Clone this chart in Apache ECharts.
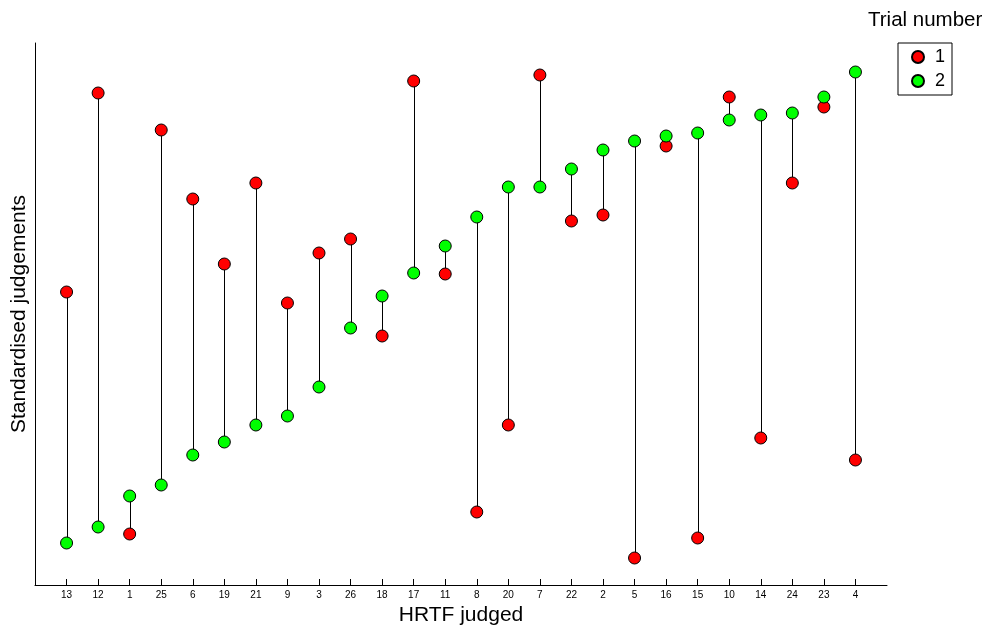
<!DOCTYPE html>
<html>
<head>
<meta charset="utf-8">
<script src="https://cdn.jsdelivr.net/npm/echarts@6/dist/echarts.min.js"></script>
<style>html,body{margin:0;padding:0;background:#fff;}#c{width:993px;height:628px;}</style>
</head>
<body>
<div id="c"></div>
<script>
// HRTF categories in displayed order
const categories = ['13','12','1','25','6','19','21','9','3','26','18','17','11','8','20','7','22','2','5','16','15','10','14','24','23','4'];
// Standardised judgements (arbitrary units)
const trial1 = [293,492,51,455,386,321,402,282,332,346,249,504,311,73,160,510,364,370,27,439,47,488,147,402,478,125];
const trial2 = [42,58,89,100,130,143,160,169,198,257,289,312,339,368,398,398,416,435,444,449,452,465,470,472,488,513];
const yMin = 0, yMax = 542;

const cats = [''].concat(categories).concat(['']);
const red = trial1.map((v,i)=>[i+1, v]);
const green = trial2.map((v,i)=>[i+1, v]);
const pairs = trial1.map((v,i)=>[i+1, v, trial2[i]]);

const font = 'Liberation Sans, Arial, Helvetica, sans-serif';
const chart = echarts.init(document.getElementById('c'), null, {renderer:'canvas'});
chart.setOption({
  animation: false,
  backgroundColor: '#fff',
  title: {
    text: 'Trial number', left: 868, top: 10, padding: 0,
    textStyle: {fontFamily: font, fontSize: 20.5, fontWeight: 'normal', color: '#000'}
  },
  legend: {
    data: ['1','2'], orient: 'vertical', left: 898, top: 43,
    borderColor: '#000', borderWidth: 1, borderRadius: 0,
    padding: [5, 7, 5, 13], itemGap: 6, itemWidth: 12, itemHeight: 12,
    icon: 'circle',
    textStyle: {fontFamily: font, fontSize: 18, color: '#000', padding: [0,0,0,6], lineHeight: 18}
  },
  grid: {left: 35, right: 106, top: 43, bottom: 43, containLabel: false, outerBoundsMode: 'none'},
  xAxis: {
    type: 'category', data: cats, boundaryGap: false,
    name: 'HRTF judged', nameLocation: 'middle', nameGap: 14,
    nameTextStyle: {fontFamily: font, fontSize: 21, color: '#000'},
    axisLine: {show: true, onZero: false, lineStyle: {color: '#000', width: 1}},
    axisTick: {show: true, inside: true, length: 6, lineStyle: {color: '#000'},
      interval: (i) => i > 0 && i < cats.length - 1},
    axisLabel: {fontFamily: font, fontSize: 10, color: '#000', margin: 5,
      interval: (i) => i > 0 && i < cats.length - 1},
    splitLine: {show: false}
  },
  yAxis: {
    type: 'value', min: yMin, max: yMax,
    name: 'Standardised judgements', nameLocation: 'middle', nameGap: 5,
    nameTextStyle: {fontFamily: font, fontSize: 21, color: '#000'},
    axisLine: {show: true, lineStyle: {color: '#000', width: 1}},
    axisTick: {show: false}, axisLabel: {show: false}, splitLine: {show: false}
  },
  series: [
    {
      type: 'custom', name: 'pairs', data: pairs, z: 1, silent: true,
      renderItem: function (params, api) {
        const a = api.coord([api.value(0), api.value(1)]);
        const b = api.coord([api.value(0), api.value(2)]);
        const x = Math.round(a[0]) + 0.5;
        return {type: 'line', shape: {x1: x, y1: a[1], x2: x, y2: b[1]},
          style: {stroke: '#000', lineWidth: 1}};
      },
      encode: {x: 0, y: [1, 2]}
    },
    {
      type: 'scatter', name: '1', data: red, z: 3, symbol: 'circle', symbolSize: 12,
      itemStyle: {color: '#ff0000', borderColor: '#000', borderWidth: 1, opacity: 1}
    },
    {
      type: 'scatter', name: '2', data: green, z: 3, symbol: 'circle', symbolSize: 12,
      itemStyle: {color: '#00ff00', borderColor: '#000', borderWidth: 1, opacity: 1}
    }
  ]
});
</script>
</body>
</html>
